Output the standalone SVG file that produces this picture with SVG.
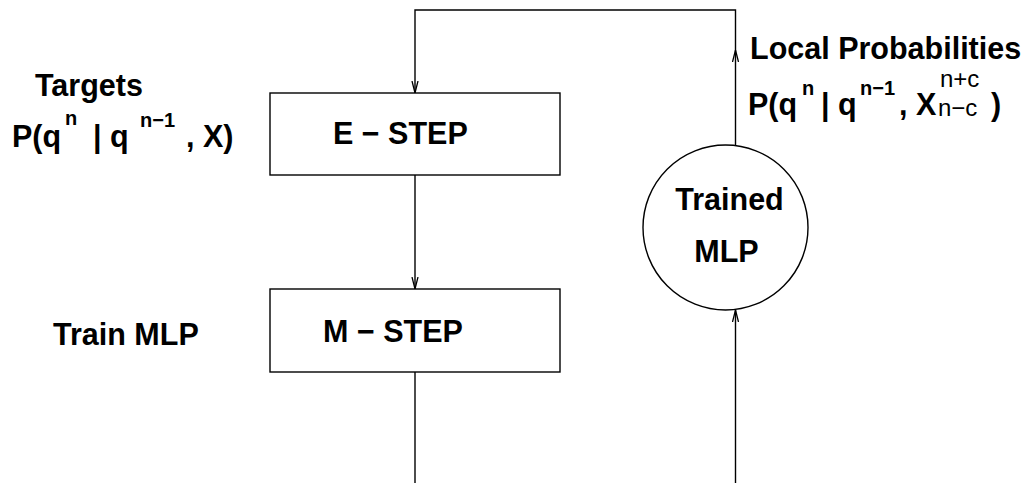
<svg xmlns="http://www.w3.org/2000/svg" width="1026" height="483" viewBox="0 0 1026 483">
  <style>
    .box { fill: #ffffff; stroke: #000000; stroke-width: 1.4; }
    .wire { fill: none; stroke: #000000; stroke-width: 1.4; }
    text { font-family: "Liberation Sans", Arial, Helvetica, sans-serif; fill: #000000; }
    .lbl { font-size: 30.5px; font-weight: bold; }
    .sup { font-size: 20px; font-weight: bold; }
    .idx { font-size: 24px; font-weight: normal; }
  </style>
  <defs>
    <marker id="arrow" viewBox="0 0 12 8" refX="12" refY="4" markerWidth="12" markerHeight="8" markerUnits="userSpaceOnUse" orient="auto">
      <path d="M0,1 L12,4 L0,7" fill="none" stroke="#000000" stroke-width="1.3"/>
    </marker>
  </defs>

  <rect width="1026" height="483" fill="#ffffff"/>

  <!-- connectors -->
  <g id="connectors">
    <path class="wire" d="M735.5,145 V50" marker-end="url(#arrow)"/>
    <path class="wire" d="M735.5,50 V10 H415 V93" marker-end="url(#arrow)"/>
    <path class="wire" d="M415,175 V289" marker-end="url(#arrow)"/>
    <path class="wire" d="M415,372 V483"/>
    <path class="wire" d="M735.5,483 V310" marker-end="url(#arrow)"/>
  </g>

  <!-- E-step -->
  <g id="e-step">
    <rect class="box" x="270" y="93" width="290" height="82"/>
    <text class="lbl" x="333" y="144">E − STEP</text>
  </g>

  <!-- M-step -->
  <g id="m-step">
    <rect class="box" x="270" y="289" width="290" height="83"/>
    <text class="lbl" x="323" y="342">M − STEP</text>
  </g>

  <!-- trained network -->
  <g id="trained-mlp">
    <circle class="box" cx="725.5" cy="227.5" r="82.5"/>
    <text class="lbl" x="729.5" y="210" text-anchor="middle">Trained</text>
    <text class="lbl" x="726.5" y="262" text-anchor="middle">MLP</text>
  </g>

  <!-- targets label -->
  <g id="targets">
    <text class="lbl" x="35" y="96">Targets</text>
    <text class="lbl" x="12" y="147">P(q</text>
    <text class="sup" x="65" y="125">n</text>
    <text class="lbl" x="93" y="147">| q</text>
    <text class="sup" x="140" y="127">n−1</text>
    <text class="lbl" x="186" y="147">, X)</text>
  </g>

  <!-- train label -->
  <g id="train">
    <text class="lbl" x="53" y="345">Train MLP</text>
  </g>

  <!-- local probabilities label -->
  <g id="local-probabilities">
    <text class="lbl" x="750" y="59">Local Probabilities</text>
    <text class="lbl" x="748" y="115">P(q</text>
    <text class="sup" x="802" y="95">n</text>
    <text class="lbl" x="821" y="115">| q</text>
    <text class="sup" x="860" y="95">n−1</text>
    <text class="lbl" x="899" y="115">, X</text>
    <text class="idx" x="940" y="87">n+c</text>
    <text class="idx" x="938" y="116">n−c</text>
    <text class="lbl" x="991" y="115">)</text>
  </g>
</svg>
